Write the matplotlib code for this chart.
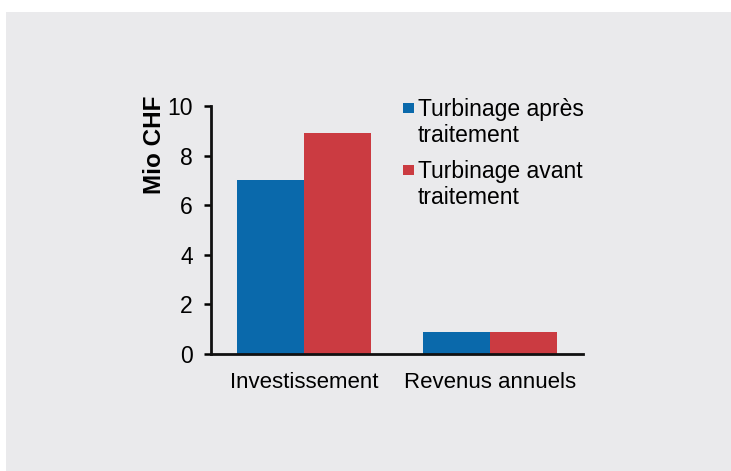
import matplotlib.pyplot as plt
import numpy as np
from matplotlib.patches import Rectangle

categories = ["Investissement", "Revenus annuels"]
series_names = ["Turbinage après\ntraitement", "Turbinage avant\ntraitement"]
apres = [7.0, 0.9]
avant = [8.9, 0.9]
colors = ["#0a69ab", "#cb3b41"]
yticks = [0, 2, 4, 6, 8, 10]

plt.rcParams["font.family"] = ["Liberation Sans", "DejaVu Sans"]

fig = plt.figure(figsize=(7.31, 4.71), dpi=100)
fig.patch.set_facecolor("white")
# grey panel behind the chart
fig.patches.append(Rectangle((6 / 731, 0), 1, 1 - 12 / 471, transform=fig.transFigure,
                             facecolor="#eaeaec", edgecolor="none", zorder=-10))

ax = fig.add_axes([211 / 731, 117 / 471, 372 / 731, 248 / 471])
ax.patch.set_alpha(0)

x = np.arange(len(categories))
w = 0.36
ax.bar(x - w / 2, apres, w, color=colors[0])
ax.bar(x + w / 2, avant, w, color=colors[1])

ax.set_xlim(-0.5, 1.5)
ax.set_ylim(0, 10)
ax.set_yticks(yticks)
ax.set_xticks(x)
ax.set_xticklabels(categories, fontsize=16)
ax.tick_params(axis="y", labelsize=16.5, length=5, width=1.8, pad=8)
ax.tick_params(axis="x", length=0, pad=13)
for s in ["top", "right"]:
    ax.spines[s].set_visible(False)
for s in ["left", "bottom"]:
    ax.spines[s].set_linewidth(2)
    ax.spines[s].set_color("#111111")
ax.set_ylabel("Mio CHF", fontsize=17.5, fontweight="bold")
ax.yaxis.set_label_coords(-0.122, 0.845)

# legend drawn by hand: square marker next to the first line of a two-line label
for i, (name, c) in enumerate(zip(series_names, colors)):
    yc = 0.992 - i * 0.25
    ax.add_patch(Rectangle((0.516, yc - 0.022), 0.0296, 0.044, transform=ax.transAxes,
                           facecolor=c, edgecolor="none", clip_on=False))
    ax.text(0.556, yc - 0.044, name, transform=ax.transAxes, fontsize=16.5,
            va="center_baseline", ha="left", linespacing=1.12)

fig.savefig("out.png", dpi=100)
